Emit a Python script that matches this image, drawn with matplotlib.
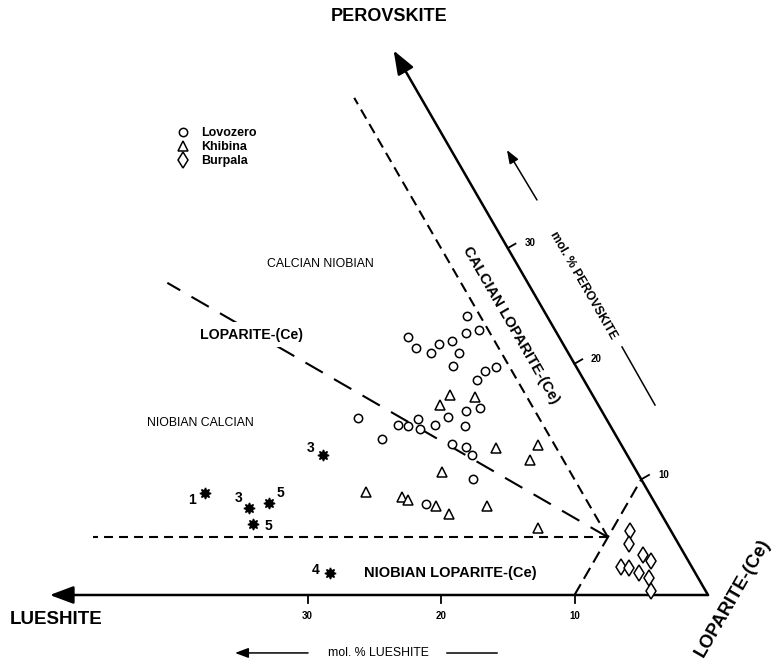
import numpy as np
import matplotlib
matplotlib.use('Agg')
import matplotlib.pyplot as plt

plt.rcParams['font.family'] = ['Liberation Sans', 'DejaVu Sans']

# mol.% lueshite (L) and mol.% perovskite (P)
lovozero_L = [6.0, 11.3, 11.2, 9.3, 10.3, 8.2, 6.8, 5.7, 8.2, 9.2, 6.0, 7.0, 8.0, 9.0, 10.2,
              11.8, 14.1, 15.9, 15.2, 14.4, 13.1, 10.9, 18.6, 17.7, 12.6, 11.7, 11.6, 12.6, 17.2]
lovozero_P = [24.1, 22.3, 21.4, 21.7, 20.9, 22.0, 22.7, 22.9, 20.9, 19.8, 19.7, 19.4, 18.6, 16.2, 15.9,
              15.4, 15.2, 14.7, 14.6, 14.4, 14.7, 14.6, 15.3, 13.5, 13.1, 12.8, 12.1, 10.0, 7.9]

khibina_L = [10.7, 11.9, 8.9, 14.6, 21.2, 18.7, 18.4, 16.5, 15.9, 9.5, 6.2, 7.5, 12.7, 9.8]
khibina_P = [17.3, 16.4, 17.1, 10.6, 8.9, 8.5, 8.2, 7.7, 7.0, 12.7, 13.0, 11.7, 7.7, 5.8]

burpala_L = [3.1, 3.7, 3.1, 2.8, 5.3, 4.8, 4.2, 3.7, 4.1]
burpala_P = [5.5, 4.4, 3.5, 2.9, 2.4, 2.3, 1.9, 1.5, 0.35]

sample_L = [33.3, 30.6, 28.9, 31.0, 22.8, 27.4]
sample_P = [8.8, 7.5, 8.0, 6.1, 12.1, 1.9]
sample_labels = ['1', '3', '5', '5', '3', '4']

tick_values = [10, 20, 30]

# field boundaries as (L, P) end points
bound_lp10_L = [10, 0]
bound_lp10_P = [0, 10]
bound_l5_L = [5, 5]
bound_l5_P = [5, 43]
bound_eq_L = [5, 27]
bound_eq_P = [5, 27]
bound_p5_L = [5, 43.6]
bound_p5_P = [5, 5]

SQ3 = np.sqrt(3) / 2


def tern(L, P):
    L = np.asarray(L, float)
    P = np.asarray(P, float)
    return -(L + P / 2), P * SQ3


fig = plt.figure(figsize=(7.76, 6.64), dpi=100)
ax = fig.add_axes([0, 0, 1, 1])
S = 13.35  # pixels per mol.%
ax.set_xlim(-708 / S, 68 / S)
ax.set_ylim(-69 / S, 595 / S)
ax.axis('off')

arrow = dict(arrowstyle='-|>,head_length=0.8,head_width=0.3', mutation_scale=18,
             lw=1.8, color='k', shrinkA=0, shrinkB=0)
# triangle edges
ax.annotate('', xy=tern(49.3, 0), xytext=tern(0, 0), arrowprops=arrow)
ax.annotate('', xy=tern(0, 47.1), xytext=tern(0, 0), arrowprops=arrow)

# ticks
for v in tick_values:
    bx, by = tern(v, 0)
    ax.plot([bx, bx], [by, by - 0.6], color='k', lw=1.3)
    ax.text(bx, by - 1.6, str(v), ha='center', va='center', fontsize=7, fontweight='bold')
    rx, ry = tern(0, v)
    ax.plot([rx, rx + 0.67 * 0.866], [ry, ry + 0.67 * 0.5], color='k', lw=1.3)
    ax.text(rx + 1.65, ry + 0.35, str(v), ha='center', va='center', fontsize=7, fontweight='bold')

# boundaries
ax.plot(*tern(bound_lp10_L, bound_lp10_P), color='k', lw=1.5, ls=(0, (6, 3)))
ax.plot(*tern(bound_l5_L, bound_l5_P), color='k', lw=1.5, ls=(0, (5, 3)))
ax.plot(*tern(bound_eq_L, bound_eq_P), color='k', lw=1.5, ls=(0, (9.6, 6.2)))
ax.plot(*tern(bound_p5_L, bound_p5_P), color='k', lw=1.5, ls=(0, (4.3, 2.9)))

# data
h1, = ax.plot(*tern(lovozero_L, lovozero_P), 'o', ms=6, mfc='white', mec='k', mew=1.1,
              ls='none', zorder=3)
h2, = ax.plot(*tern(khibina_L, khibina_P), '^', ms=7.5, mfc='white', mec='k', mew=1.1,
              ls='none', zorder=3)
h3, = ax.plot(*tern(burpala_L, burpala_P), 'd', ms=8.5, mfc='white', mec='k', mew=1.1,
              ls='none', zorder=3)
sx, sy = tern(sample_L, sample_P)
ax.plot(sx, sy, marker=(8, 1, 0), ms=8, color='k', ls='none', zorder=3)
label_offsets = [(-9, -4.8), (-8, 7.2), (8.6, 6.8), (10.8, -1.2), (-9, 5.3), (-10, 2.4)]
for x, y, lab, off in zip(sx, sy, sample_labels, label_offsets):
    ax.annotate(lab, (x, y), xytext=off, textcoords='offset points', ha='center',
                va='center', fontsize=10, fontweight='bold')

ax.legend([h1, h2, h3], ['Lovozero', 'Khibina', 'Burpala'], loc='upper left',
          bbox_to_anchor=(0.212, 0.825), frameon=False, handlelength=1.2,
          handletextpad=0.8, labelspacing=0.15, prop={'weight': 'bold', 'size': 9})

# labels
ax.text(-23.9, 43.3, 'PEROVSKITE', ha='center', va='center', fontsize=13, fontweight='bold')
ax.text(-48.84, -1.87, 'LUESHITE', ha='center', va='center', fontsize=13.5, fontweight='bold')
ax.text(1.85, -0.25, 'LOPARITE-(Ce)', ha='center', va='center', fontsize=13.2,
        fontweight='bold', rotation=60, rotation_mode='anchor')
ax.text(-19.33, 1.65, 'NIOBIAN LOPARITE-(Ce)', ha='center', va='center', fontsize=10.5,
        fontweight='bold')
ax.text(-34.23, 19.48, 'LOPARITE-(Ce)', ha='center', va='center', fontsize=10.2,
        fontweight='bold', zorder=4,
        bbox=dict(facecolor='white', edgecolor='none', pad=4))
ax.text(-38.05, 12.88, 'NIOBIAN CALCIAN', ha='center', va='center', fontsize=8.8)
ax.text(-29.06, 24.79, 'CALCIAN NIOBIAN', ha='center', va='center', fontsize=8.8)
ax.text(-14.76, 20.22, 'CALCIAN LOPARITE-(Ce)', ha='center', va='center', fontsize=10.7,
        fontweight='bold', rotation=-60, rotation_mode='anchor')

small = dict(arrowstyle='-|>,head_length=0.8,head_width=0.3', mutation_scale=10,
             lw=1.1, color='k', shrinkA=0, shrinkB=0)
ax.text(-9.36, 23.22, 'mol. % PEROVSKITE', ha='center', va='center', fontsize=8.8,
        fontweight='bold', rotation=-60, rotation_mode='anchor')
ax.annotate('', xy=(-15.06, 33.33), xytext=(-12.81, 29.59), arrowprops=small)
ax.plot([-6.44, -3.97], [18.58, 14.23], color='k', lw=1.1)

ax.text(-24.72, -4.34, 'mol. % LUESHITE', ha='center', va='center', fontsize=8.8)
ax.annotate('', xy=(-35.43, -4.34), xytext=(-29.96, -4.34), arrowprops=small)
ax.plot([-19.55, -15.81], [-4.34, -4.34], color='k', lw=1.1)

fig.savefig('out.png', dpi=100)
